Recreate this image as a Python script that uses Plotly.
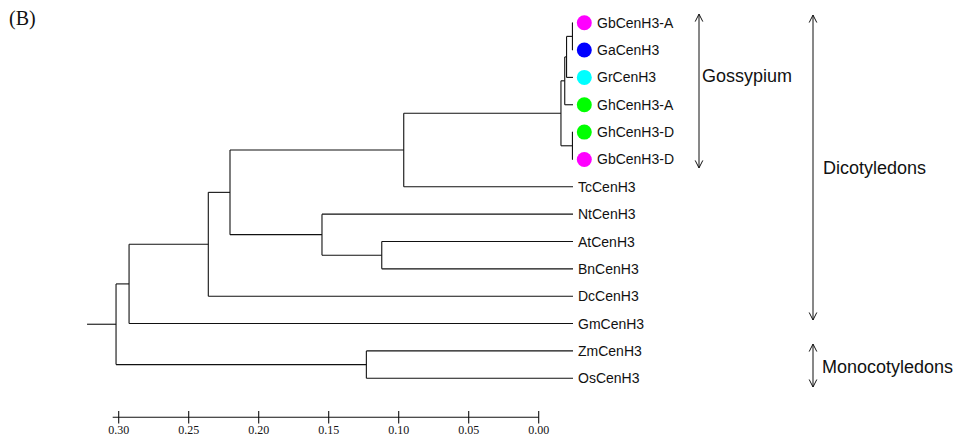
import plotly.graph_objects as go

# ---------------- data ----------------
leaves = ["GbCenH3-A", "GaCenH3", "GrCenH3", "GhCenH3-A", "GhCenH3-D", "GbCenH3-D",
          "TcCenH3", "NtCenH3", "AtCenH3", "BnCenH3", "DcCenH3", "GmCenH3",
          "ZmCenH3", "OsCenH3"]
leaf_dot_colors = ["#FF00FF", "#0000FF", "#00FFFF", "#00FF00", "#00FF00", "#FF00FF",
                   None, None, None, None, None, None, None, None]

# internal nodes (children listed top to bottom) and their distance from the tips
node_names = ["n_ab", "n_abr", "n_gA", "n_gD", "n_goss", "n_gt", "n_atbn", "n_nab",
              "n_core", "n_dc", "n_dicot", "n_mono", "root"]
node_children = [("GbCenH3-A", "GaCenH3"), ("n_ab", "GrCenH3"), ("n_abr", "GhCenH3-A"),
                 ("GhCenH3-D", "GbCenH3-D"), ("n_gA", "n_gD"), ("n_goss", "TcCenH3"),
                 ("AtCenH3", "BnCenH3"), ("NtCenH3", "n_atbn"), ("n_gt", "n_nab"),
                 ("n_core", "DcCenH3"), ("n_dc", "GmCenH3"), ("ZmCenH3", "OsCenH3"),
                 ("n_dicot", "n_mono")]
node_heights = [0.0004, 0.0046, 0.0059, 0.0004, 0.0086, 0.1209, 0.1366, 0.1793,
                0.2450, 0.2605, 0.3171, 0.1476, 0.3264]
root_stub = 0.0207

scale_ticks = [0.30, 0.25, 0.20, 0.15, 0.10, 0.05, 0.00]
scale_tick_labels = ["0.30", "0.25", "0.20", "0.15", "0.10", "0.05", "0.00"]

groups = ["Gossypium", "Dicotyledons", "Monocotyledons"]
group_first_leaf = ["GbCenH3-A", "GbCenH3-A", "ZmCenH3"]
group_last_leaf = ["GbCenH3-D", "GmCenH3", "OsCenH3"]

# ---------------- layout constants ----------------
W, H = 954, 441
PX_PER_UNIT = 1400.0
TIP_PX = 573.0          # pixel x of the tips
SCALE_ZERO_PX = 538.7   # pixel x of 0.00 on the scale bar
LEAF0_PX = 22.7
LEAF_STEP_PX = 27.35

x_range = [TIP_PX / PX_PER_UNIT, (TIP_PX - W) / PX_PER_UNIT]
x2_range = [SCALE_ZERO_PX / PX_PER_UNIT, (SCALE_ZERO_PX - W) / PX_PER_UNIT]
y_range = [(H - LEAF0_PX) / LEAF_STEP_PX, -LEAF0_PX / LEAF_STEP_PX]

def px_to_y(p):
    return (p - LEAF0_PX) / LEAF_STEP_PX

# ---------------- tree geometry ----------------
pos_y = {name: float(i) for i, name in enumerate(leaves)}
pos_x = {name: 0.0 for name in leaves}
for name, (a, b), h in zip(node_names, node_children, node_heights):
    pos_y[name] = (pos_y[a] + pos_y[b]) / 2.0
    pos_x[name] = h

xs, ys = [], []
for name, (a, b), h in zip(node_names, node_children, node_heights):
    xs += [h, h, None]
    ys += [pos_y[a], pos_y[b], None]
    for c in (a, b):
        xs += [h, pos_x[c], None]
        ys += [pos_y[c], pos_y[c], None]
root = node_names[-1]
xs += [pos_x[root] + root_stub, pos_x[root], None]
ys += [pos_y[root], pos_y[root], None]

fig = go.Figure()
fig.add_trace(go.Scatter(x=xs, y=ys, mode="lines",
                         line=dict(color="#111111", width=1.1),
                         hoverinfo="skip", showlegend=False))

# coloured dots
DOT_OFFSET = -11.3 / PX_PER_UNIT
dot_x = [DOT_OFFSET for c in leaf_dot_colors if c]
dot_y = [i for i, c in enumerate(leaf_dot_colors) if c]
dot_c = [c for c in leaf_dot_colors if c]
fig.add_trace(go.Scatter(x=dot_x, y=dot_y, mode="markers",
                         marker=dict(size=15, color=dot_c, line=dict(width=0)),
                         hoverinfo="skip", showlegend=False))

annotations = []
for i, (name, c) in enumerate(zip(leaves, leaf_dot_colors)):
    annotations.append(dict(x=0, y=i, xref="x", yref="y", text=name, showarrow=False,
                            xanchor="left", yanchor="middle",
                            xshift=22 if c else 3,
                            font=dict(family="Liberation Sans, Arial", size=14, color="#111111")))

# scale bar (own axis)
scale_y = px_to_y(417.3)
scale_start = (SCALE_ZERO_PX - 112.7) / PX_PER_UNIT
fig.add_trace(go.Scatter(x=[scale_start, 0.0], y=[scale_y, scale_y], xaxis="x2",
                         mode="lines", line=dict(color="#111111", width=1.1),
                         hoverinfo="skip", showlegend=False))
fig.add_trace(go.Scatter(x=scale_ticks, y=[scale_y] * len(scale_ticks), xaxis="x2",
                         mode="markers",
                         marker=dict(symbol="line-ns", size=9,
                                     line=dict(color="#111111", width=1.1)),
                         hoverinfo="skip", showlegend=False))

# group arrows
arrow_px = [699.0, 813.0, 813.0]
arrow_pad_top = [-0.315, -0.28, -0.25]
arrow_pad_bot = [0.31, -0.13, 0.32]
label_shift = [1, 8, 7]
label_y_px = [76.0, 168.0, 366.7]
shapes = []
ax_x, ax_y = [], []
for g, f, l, apx, pt, pb, ls, ly in zip(groups, group_first_leaf, group_last_leaf, arrow_px,
                                         arrow_pad_top, arrow_pad_bot, label_shift, label_y_px):
    xa = (TIP_PX - apx) / PX_PER_UNIT
    y_top = pos_y[f] + pt
    y_bot = pos_y[l] + pb
    ax_x += [xa, xa, None]
    ax_y += [y_top, y_bot, None]
    shapes.append(dict(type="path", xref="x", yref="y", xsizemode="pixel", ysizemode="pixel",
                       xanchor=xa, yanchor=y_top, path="M -3.8,-7.5 L 0,0 L 3.8,-7.5",
                       line=dict(color="#111111", width=1)))
    shapes.append(dict(type="path", xref="x", yref="y", xsizemode="pixel", ysizemode="pixel",
                       xanchor=xa, yanchor=y_bot, path="M -3.8,7.5 L 0,0 L 3.8,7.5",
                       line=dict(color="#111111", width=1)))
    annotations.append(dict(x=xa, y=px_to_y(ly), xref="x", yref="y", text=g, showarrow=False,
                            xanchor="left", yanchor="middle", xshift=ls,
                            font=dict(family="Liberation Sans, Arial", size=18, color="#111111")))
fig.add_trace(go.Scatter(x=ax_x, y=ax_y, mode="lines",
                         line=dict(color="#111111", width=1),
                         hoverinfo="skip", showlegend=False))

annotations.append(dict(x=7 / W, y=1 - 18 / H, xref="paper", yref="paper", text="(B)",
                        showarrow=False, xanchor="left", yanchor="middle",
                        font=dict(family="Liberation Serif, Times New Roman", size=20,
                                  color="#111111")))

fig.update_layout(
    width=W, height=H,
    margin=dict(l=0, r=0, t=0, b=0),
    paper_bgcolor="white", plot_bgcolor="white",
    hovermode=False, dragmode=False,
    xaxis=dict(range=x_range, visible=False, domain=[0, 1], fixedrange=True),
    xaxis2=dict(range=x2_range, overlaying="x", anchor="free", position=(H - 421) / H,
                showgrid=False, zeroline=False, showline=False, ticks="", fixedrange=True,
                tickvals=scale_ticks, ticktext=scale_tick_labels,
                tickfont=dict(family="Liberation Serif, Times New Roman", size=12,
                              color="#111111"),
                side="bottom"),
    yaxis=dict(range=y_range, visible=False, domain=[0, 1], fixedrange=True),
    shapes=shapes,
    annotations=annotations,
)

fig.write_html("out.html",
               config={"displayModeBar": False, "staticPlot": True},
               post_script="document.body.style.margin='0';document.body.style.padding='0';"
                           "document.body.style.overflow='hidden';")
